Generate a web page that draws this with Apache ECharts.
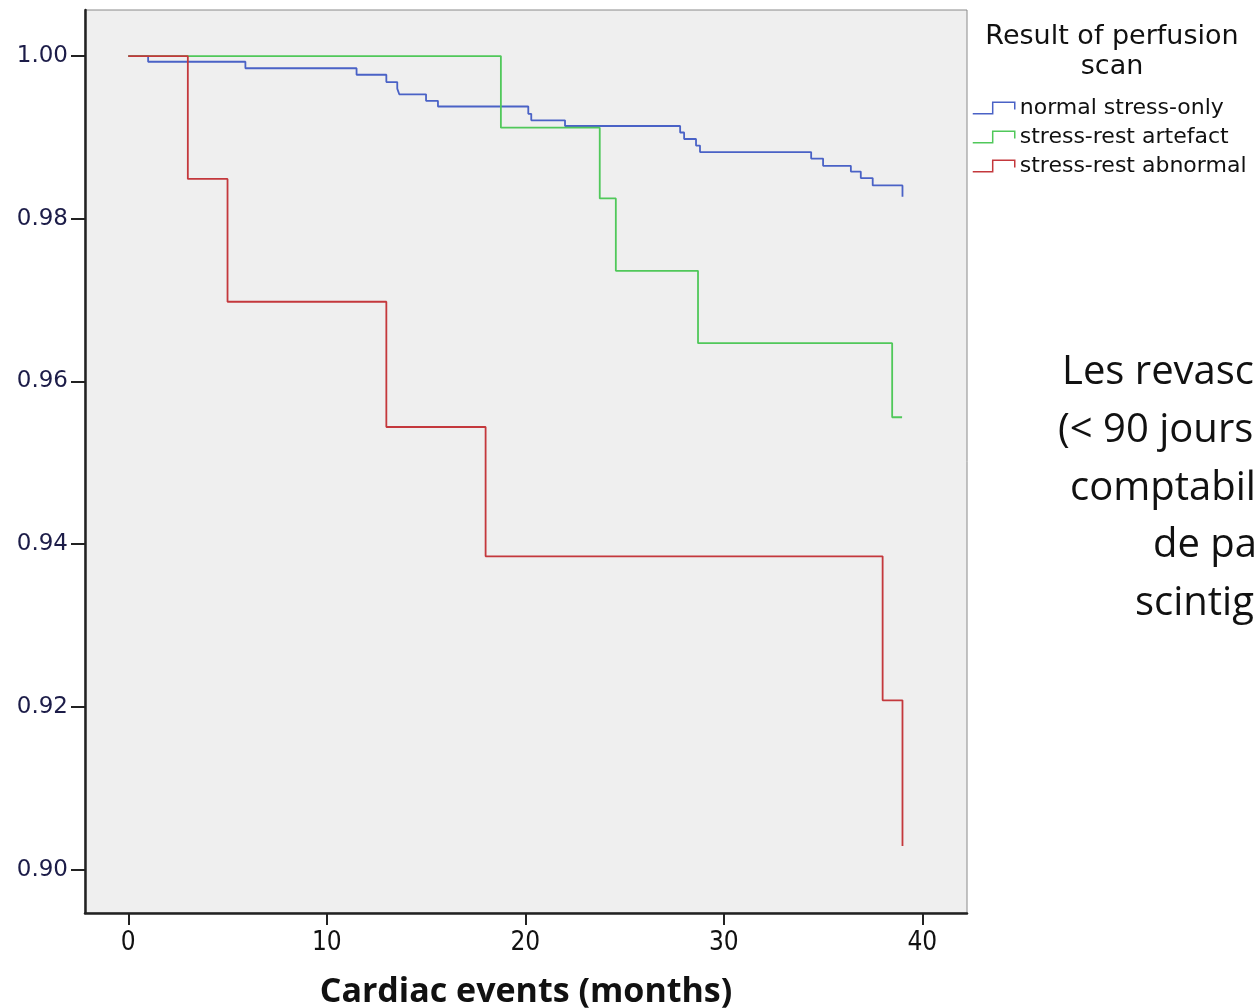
<!DOCTYPE html>
<html>
<head>
<meta charset="utf-8">
<script src="https://cdn.jsdelivr.net/npm/echarts@6/dist/echarts.min.js"></script>
<style>
  html, body { margin: 0; padding: 0; background: #fff; }
  #chart { width: 1260px; height: 1008px; }
</style>
</head>
<body>
<div id="chart"></div>
<script>
// survival curves (months, survival)
var normalTimes = [0, 1.0, 5.9, 11.5, 13.0, 13.55, 13.65, 15.0, 15.6, 20.15, 20.3, 22.0, 27.8, 28.0, 28.6, 28.8, 34.4, 35.0, 36.4, 36.9, 37.5, 39.0];
var normalSurv  = [1.0, 0.9993, 0.9985, 0.9977, 0.9968, 0.9960, 0.9953, 0.9945, 0.9938, 0.9929, 0.9921, 0.9914, 0.9906, 0.9898, 0.9890, 0.9882, 0.9874, 0.9865, 0.9858, 0.9850, 0.9841, 0.9827];

var artefactTimes = [0, 18.77, 23.75, 24.56, 28.7, 38.48, 38.98];
var artefactSurv  = [1.0, 0.9912, 0.9825, 0.9736, 0.9647, 0.9556, 0.9556];

var abnormalTimes = [0, 3, 5, 13, 18, 38, 39];
var abnormalSurv  = [1.0, 0.9849, 0.9698, 0.9544, 0.9385, 0.9208, 0.9029];

var seriesNames = ['normal stress-only', 'stress-rest artefact', 'stress-rest abnormal'];
var seriesColors = ['#4a62c6', '#50c85a', '#c4383c'];

var xTicks = [0, 10, 20, 30, 40];
var yTicks = [0.90, 0.92, 0.94, 0.96, 0.98, 1.00];

var noteLines = ['Les revasc', '(< 90 jours', 'comptabil', 'de pa', 'scintig'];

function zip(xs, ys) {
    var out = [];
    for (var i = 0; i < xs.length; i++) out.push([xs[i], ys[i]]);
    return out;
}

var curves = [zip(normalTimes, normalSurv), zip(artefactTimes, artefactSurv), zip(abnormalTimes, abnormalSurv)];

var chart = echarts.init(document.getElementById('chart'));

var noteX = [1062, 1058, 1070, 1153, 1135];
var noteGraphics = noteLines.map(function (t, i) {
    return {
        type: 'text',
        x: noteX[i],
        y: 373 + i * 57.7,
        style: {
            text: t,
            font: '40px "Open Sans", "Noto Sans", sans-serif',
            fill: '#111',
            textVerticalAlign: 'middle'
        }
    };
});

var option = {
    animation: false,
    backgroundColor: '#fff',
    grid: {
        left: 85, right: 293, top: 10, bottom: 95,
        outerBoundsMode: 'none',
        show: true,
        backgroundColor: '#efefef',
        borderColor: '#8a8a8a',
        borderWidth: 1
    },
    legend: {
        orient: 'vertical',
        left: 972,
        top: 97,
        padding: 0,
        itemWidth: 42,
        itemHeight: 12,
        itemGap: 7,
        icon: 'path://M0,11 L19,11 L19,0 L40,0 L40,7',
        textStyle: { fontFamily: 'DejaVu Sans', fontSize: 22, lineHeight: 22, color: '#111' },
        data: seriesNames.map(function (n, i) {
            return {
                name: n,
                itemStyle: { color: 'transparent', borderColor: seriesColors[i], borderWidth: 1.5 }
            };
        })
    },
    graphic: [{
        type: 'text',
        x: 1112,
        y: 22,
        style: {
            text: 'Result of perfusion\nscan',
            font: '27px "DejaVu Sans", sans-serif',
            fill: '#111',
            textAlign: 'center',
            lineHeight: 30
        }
    }].concat(noteGraphics),
    xAxis: {
        type: 'value',
        min: -2.18,
        max: 42.25,
        name: 'Cardiac events (months)',
        nameLocation: 'middle',
        nameGap: 62,
        nameTextStyle: { fontFamily: '"Open Sans", "Noto Sans", sans-serif', fontWeight: 'bold', fontSize: 34, color: '#111' },
        axisLine: { onZero: false, lineStyle: { color: '#222', width: 2.5 } },
        axisTick: { customValues: xTicks, length: 12, lineStyle: { color: '#222', width: 2 } },
        axisLabel: {
            customValues: xTicks,
            margin: 17,
            fontFamily: '"DejaVu Sans Condensed", "DejaVu Sans", sans-serif',
            fontSize: 26,
            color: '#111'
        },
        splitLine: { show: false }
    },
    yAxis: {
        type: 'value',
        min: 0.89466,
        max: 1.00566,
        axisLine: { onZero: false, lineStyle: { color: '#222', width: 2.5 } },
        axisTick: { customValues: yTicks, length: 14, lineStyle: { color: '#222', width: 2 } },
        axisLabel: {
            customValues: yTicks,
            margin: 17,
            fontFamily: '"DejaVu Sans", sans-serif',
            fontSize: 23,
            color: '#1c1c48',
            formatter: function (v) { return v.toFixed(2); }
        },
        splitLine: { show: false }
    },
    series: seriesNames.map(function (n, i) {
        return {
            name: n,
            type: 'line',
            step: 'end',
            symbol: 'none',
            data: curves[i],
            lineStyle: { color: seriesColors[i], width: 1.8 },
            itemStyle: { color: seriesColors[i] }
        };
    })
};

chart.setOption(option);
</script>
</body>
</html>
